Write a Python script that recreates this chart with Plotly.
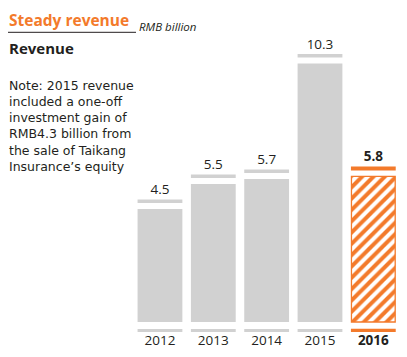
import plotly.graph_objects as go

years = ["2012", "2013", "2014", "2015", "2016"]
revenue = [4.5, 5.5, 5.7, 10.3, 5.8]
value_labels = ["4.5", "5.5", "5.7", "10.3", "5.8"]
note_lines = [
    "Note: 2015 revenue",
    "included a one-off",
    "investment gain of",
    "RMB4.3 billion from",
    "the sale of Taikang",
    "Insurance\u2019s equity",
]

W, H = 407, 357
ORANGE = "#F37A2B"
GREY = "#D1D1D1"
DARK = "#231F20"

n = len(years)
xs = list(range(n))
is_last = [i == n - 1 for i in xs]

GAP = 0.24
CAP = [0.16 if l else 0.14 for l in is_last]
BW = 0.84

def px(x):
    return x / W

def py(y):
    return 1 - y / H

fig = go.Figure()

# main bars (grey)
fig.add_trace(go.Bar(
    x=[x for x, l in zip(xs, is_last) if not l],
    y=[v for v, l in zip(revenue, is_last) if not l],
    width=BW, marker=dict(color=GREY, line=dict(width=0)),
    hoverinfo="skip", showlegend=False,
))
# highlighted bar (hatched)
fig.add_trace(go.Bar(
    x=[x for x, l in zip(xs, is_last) if l],
    y=[v for v, l in zip(revenue, is_last) if l],
    width=BW - 0.02,
    marker=dict(color="white", line=dict(color=ORANGE, width=1.3),
                pattern=dict(shape="/", fgcolor=ORANGE, fgopacity=1, bgcolor="white",
                             size=8, solidity=0.5)),
    hoverinfo="skip", showlegend=False,
))
# caps above bars
fig.add_trace(go.Bar(
    x=xs, y=CAP, base=[v + GAP for v in revenue], width=BW,
    marker=dict(color=[ORANGE if l else GREY for l in is_last], line=dict(width=0)),
    hoverinfo="skip", showlegend=False,
))
# baseline strips
fig.add_trace(go.Bar(
    x=xs, y=[0.13 if l else 0.12 for l in is_last], base=[-0.4] * n, width=BW,
    marker=dict(color=[ORANGE if l else GREY for l in is_last], line=dict(width=0)),
    hoverinfo="skip", showlegend=False,
))
# value labels
fig.add_trace(go.Scatter(
    x=xs, y=[v + GAP + c + 0.34 for v, c in zip(revenue, CAP)],
    mode="text",
    text=[f"<b>{t}</b>" if l else t for t, l in zip(value_labels, is_last)],
    textposition="middle center",
    textfont=dict(family="Open Sans", size=13.5, color=DARK),
    hoverinfo="skip", showlegend=False,
))
# year labels
fig.add_trace(go.Scatter(
    x=xs, y=[-0.8] * n, mode="text",
    text=[f"<b>{t}</b>" if l else t for t, l in zip(years, is_last)],
    textposition="middle center",
    textfont=dict(family="Open Sans", size=13.5, color=DARK),
    hoverinfo="skip", showlegend=False,
))

annotations = [
    dict(x=px(7), y=py(20), text="<b>Steady revenue</b>", xanchor="left", yanchor="middle",
         font=dict(family="Open Sans", size=15.5, color=ORANGE)),
    dict(x=px(137), y=py(26.5), text="<i>RMB billion</i>", xanchor="left", yanchor="middle",
         font=dict(family="Open Sans", size=11.5, color=DARK)),
    dict(x=px(7), y=py(48), text="<b>Revenue</b>", xanchor="left", yanchor="middle",
         font=dict(family="Open Sans", size=15, color=DARK)),
]
note_y = [85, 101.5, 117.5, 133.5, 150, 166.5]
for line, yy in zip(note_lines, note_y):
    annotations.append(dict(x=px(7), y=py(yy), text=line, xanchor="left", yanchor="middle",
                            font=dict(family="DejaVu Sans", size=12.5, color=DARK)))
for a in annotations:
    a.update(xref="paper", yref="paper", showarrow=False)

fig.update_layout(
    width=W, height=H,
    margin=dict(l=0, r=0, t=0, b=0),
    paper_bgcolor="white", plot_bgcolor="white",
    barmode="overlay",
    xaxis=dict(domain=[133.3 / W, 400 / W], range=[-0.5, n - 0.5], visible=False, fixedrange=True),
    yaxis=dict(domain=[1 - 347.1 / H, 1 - 20.8 / H], range=[-1, 12], visible=False, fixedrange=True),
    annotations=annotations,
    shapes=[dict(type="line", xref="paper", yref="paper", x0=px(8), x1=px(136), y0=py(32.3), y1=py(32.3),
                 line=dict(color=DARK, width=1))],
)

fig.write_html("out.html", config={"displayModeBar": False},
               post_script="document.body.style.margin='0';document.body.style.overflow='hidden';")
